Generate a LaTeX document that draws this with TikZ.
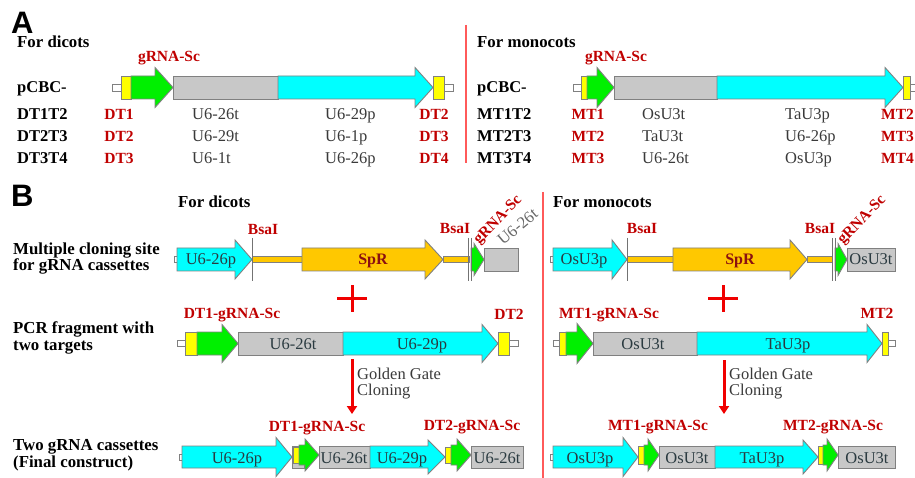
\documentclass[tikz,border=0pt]{standalone}
\usepackage{fontspec}
\setmainfont{Liberation Serif}
\newfontfamily\panelfont{Liberation Sans}
\usetikzlibrary{arrows.meta}
\definecolor{cy}{HTML}{00FFFF}
\definecolor{gr}{HTML}{00F000}
\definecolor{gy}{HTML}{C8C8C8}
\definecolor{ye}{HTML}{FFFF00}
\definecolor{og}{HTML}{FFC800}
\definecolor{ol}{HTML}{808080}
\definecolor{rd}{HTML}{C00000}
\definecolor{srd}{HTML}{8B1010}
\definecolor{tx}{HTML}{3A3A3A}
\definecolor{inn}{HTML}{2A3A40}
\definecolor{dv}{HTML}{FF5A5A}
\definecolor{ar}{HTML}{F00000}
\newcommand{\GBox}[5]{\path[geneseg,fill=#5] (#1,{#3-#4}) rectangle (#2,{#3+#4});}
\newcommand{\GArr}[7]{\path[geneseg,fill=#7] (#1,{#4-#5}) -- (#2,{#4-#5}) -- (#2,{#4-#6}) -- (#3,#4) -- (#2,{#4+#6}) -- (#2,{#4+#5}) -- (#1,{#4+#5}) -- cycle;}
\begin{document}
\begin{tikzpicture}[x=1pt,y=-1pt,
  geneseg/.style={draw=ol,line width=0.9pt,line join=miter},
  panellab/.style={font=\panelfont\bfseries\fontsize{31}{31}\selectfont,anchor=base west,inner sep=0pt},
  head/.style={font=\bfseries\fontsize{16.8}{18}\selectfont,anchor=base west,inner sep=0pt},
  twoline/.style={font=\bfseries\fontsize{16.8}{16.5}\selectfont,anchor=base west,inner sep=0pt,align=left},
  rowl/.style={font=\bfseries\fontsize{16.5}{18}\selectfont,anchor=base west,inner sep=0pt},
  rowt/.style={text=tx,font=\fontsize{16.5}{18}\selectfont,anchor=base west,inner sep=0pt},
  rott/.style={text=ol!80!black,font=\fontsize{16.5}{18}\selectfont,anchor=base west,inner sep=0pt},
  redl/.style={text=rd,font=\bfseries\fontsize{15.5}{17}\selectfont,anchor=base,inner sep=0pt},
  redw/.style={redl,anchor=base west},
  inlab/.style={text=inn,font=\fontsize{16.5}{18}\selectfont,anchor=base,inner sep=0pt},
  spr/.style={text=srd,font=\bfseries\fontsize{16}{18}\selectfont,anchor=base,inner sep=0pt},
  gglab/.style={text=tx,font=\fontsize{16.5}{16}\selectfont,anchor=base west,inner sep=0pt,align=left},
  divider/.style={draw=dv,line width=1.3pt},
  cutline/.style={draw=ol!90!black,line width=0.9pt},
  plussign/.style={draw=ar,line width=3pt},
  ggarrow/.style={draw=ar,line width=3pt,-{Triangle[length=8pt,width=10pt]}}
]
\useasboundingbox (0,0) rectangle (915,478);
\clip (0,0) rectangle (915,478);
\fill[white] (0,0) rectangle (915,478);

% ================= Panel A =================
\node[panellab] (pA) at (11,34) {A};
\draw[divider] (466,25) -- (466,163);

% dicots
\node[head] (hAd) at (17,48) {For dicots};
\node[redl] (gAd) at (169,62) {gRNA-Sc};
\node[rowl] (pcbcd) at (17,93) {pCBC-};
\GBox{112}{121}{87.5}{3.5}{white}
\GBox{121}{131}{87.5}{11.5}{ye}
\GArr{131}{155}{173}{87.5}{11.5}{20}{gr}
\GBox{173}{278}{87.5}{11.5}{gy}
\GArr{278}{415}{433}{87.5}{11.5}{20}{cy}
\GBox{444}{453}{87.5}{3.5}{white}
\GBox{433}{444}{87.5}{11.5}{ye}

\foreach \a/\b/\c/\d/\e [count=\i] in {DT1T2/DT1/U6-26t/U6-29p/DT2, DT2T3/DT2/U6-29t/U6-1p/DT3, DT3T4/DT3/U6-1t/U6-26p/DT4}{
  \pgfmathsetmacro\yy{98+22*\i}
  \node[rowl] (dr\i) at (17,\yy) {\a};
  \node[redl] (dra\i) at (119,\yy) {\b};
  \node[rowt] (drb\i) at (192,\yy) {\c};
  \node[rowt] (drc\i) at (325,\yy) {\d};
  \node[redl] (drd\i) at (434,\yy) {\e};
}

% monocots
\node[head] (hAm) at (477,48) {For monocots};
\node[redl] (gAm) at (616,62) {gRNA-Sc};
\node[rowl] (pcbcm) at (477,93) {pCBC-};
\GBox{573}{581}{87.5}{3.5}{white}
\GBox{581}{587}{87.5}{11.5}{ye}
\GArr{587}{597}{614}{87.5}{11.5}{20}{gr}
\GBox{614}{717}{87.5}{11.5}{gy}
\GArr{717}{885}{903}{87.5}{11.5}{20}{cy}
\GBox{910}{920}{87.5}{3.5}{white}
\GBox{903}{910}{87.5}{11.5}{ye}

\foreach \a/\b/\c/\d/\e [count=\i] in {MT1T2/MT1/OsU3t/TaU3p/MT2, MT2T3/MT2/TaU3t/U6-26p/MT3, MT3T4/MT3/U6-26t/OsU3p/MT4}{
  \pgfmathsetmacro\yy{98+22*\i}
  \node[rowl] (mr\i) at (477,\yy) {\a};
  \node[redl] (mra\i) at (588,\yy) {\b};
  \node[rowt] (mrb\i) at (642,\yy) {\c};
  \node[rowt] (mrc\i) at (785,\yy) {\d};
  \node[redw] (mrd\i) at (881,\yy) {\e};
}

% ================= Panel B =================
\node[panellab] (pB) at (11,207) {B};
\draw[divider] (543,192) -- (543,480);
\node[head] (hBd) at (178,208) {For dicots};
\node[head] (hBm) at (553,208) {For monocots};

\node[twoline] (l1) at (13,271) {Multiple cloning site\\for gRNA cassettes};
\node[twoline] (l2) at (13,350) {PCR fragment with\\two targets};
\node[twoline] (l3) at (13,467) {Two gRNA cassettes\\(Final construct)};

% --- MCS dicots
\GBox{174}{177}{259.5}{3}{white}
\GArr{177}{235}{252}{259.5}{11.5}{19.5}{cy}
\GBox{252}{302}{259.5}{3}{og}
\GArr{302}{425}{443}{259.5}{11.5}{19.5}{og}
\GBox{443}{469}{259.5}{3}{og}
\GArr{471}{474}{484}{259.5}{11.5}{16}{gr}
\GBox{484}{518}{259.5}{11.5}{gy}
\draw[cutline] (252,238) -- (252,281);
\draw[cutline] (468,238) -- (468,281);
\draw[cutline] (471,238) -- (471,281);
\node[inlab] (t1) at (211,265) {U6-26p};
\node[spr] (t2) at (373,265) {SpR};
\node[redl] (bs1) at (263,235) {BsaI};
\node[redl] (bs2) at (455,234) {BsaI};
\node[redw,rotate=46] (gr1) at (479,245) {gRNA-Sc};
\node[rott,rotate=40] (u61) at (503,246) {U6-26t};

% --- MCS monocots
\GBox{550}{553}{259.5}{3}{white}
\GArr{553}{612}{627}{259.5}{11.5}{19.5}{cy}
\GBox{627}{673}{259.5}{3}{og}
\GArr{673}{790}{807}{259.5}{11.5}{19.5}{og}
\GBox{807}{832}{259.5}{3}{og}
\GArr{835}{838}{847}{259.5}{11.5}{16}{gr}
\GBox{847}{895}{259.5}{11.5}{gy}
\draw[cutline] (627,238) -- (627,281);
\draw[cutline] (832,238) -- (832,281);
\draw[cutline] (835,238) -- (835,281);
\node[inlab] (t3) at (584,265) {OsU3p};
\node[spr] (t4) at (740,265) {SpR};
\node[inlab] (t5) at (871,265) {OsU3t};
\node[redl] (bs3) at (642,234) {BsaI};
\node[redl] (bs4) at (820,234) {BsaI};
\node[redw,rotate=46] (gr2) at (843,245) {gRNA-Sc};

% plus signs
\draw[plussign] (337,298) -- (367,298) (352,285) -- (352,312);
\draw[plussign] (708,298) -- (738,298) (723,285) -- (723,312);

% --- PCR dicots
\GBox{177}{185}{343.5}{3}{white}
\GBox{185}{197}{343.5}{11.5}{ye}
\GArr{197}{222}{238}{343.5}{11.5}{19}{gr}
\GBox{238}{343}{343.5}{11.5}{gy}
\GArr{343}{482}{498}{343.5}{11.5}{19}{cy}
\GBox{509}{518}{343.5}{3}{white}
\GBox{498}{509}{343.5}{11.5}{ye}
\node[inlab] (t6) at (293,349) {U6-26t};
\node[inlab] (t7) at (422,349) {U6-29p};
\node[redl] (p1) at (232,318) {DT1-gRNA-Sc};
\node[redl] (p2) at (509,319) {DT2};

% --- PCR monocots
\GBox{553}{559}{343.5}{3}{white}
\GBox{559}{566}{343.5}{11.5}{ye}
\GArr{566}{577}{593}{343.5}{11.5}{20}{gr}
\GBox{593}{697}{343.5}{11.5}{gy}
\GArr{697}{867}{882}{343.5}{11.5}{19}{cy}
\GBox{888}{895}{343.5}{3}{white}
\GBox{882}{888}{343.5}{11.5}{ye}
\node[inlab] (t8) at (643,349) {OsU3t};
\node[inlab] (t9) at (788,349) {TaU3p};
\node[redl] (p3) at (609,318) {MT1-gRNA-Sc};
\node[redl] (p4) at (877,318) {MT2};

% Golden Gate arrows
\coordinate (ga1) at (352,359);
\coordinate (ga2) at (352,414);
\coordinate (gb1) at (724,360);
\coordinate (gb2) at (724,414);
\draw[ggarrow] (ga1) -- (ga2);
\draw[ggarrow] (gb1) -- (gb2);
\node[gglab] (gg1) at (357,395) {Golden Gate\\Cloning};
\node[gglab] (gg2) at (729,395) {Golden Gate\\Cloning};

% --- Final dicots
\GBox{179}{182}{457}{3}{white}
\GArr{182}{276}{292}{457}{11}{19.5}{cy}
\GBox{292}{304}{457}{11}{gy}
\GBox{293}{299}{455}{8}{ye}
\GArr{299}{305}{319}{455}{10}{16}{gr}
\GBox{319}{370}{457}{11}{gy}
\GArr{370}{428}{445}{457}{11}{17}{cy}
\GBox{445}{451}{455}{8}{ye}
\GArr{451}{457}{471}{455}{10}{16}{gr}
\GBox{471}{523}{457}{11}{gy}
\node[inlab] (t10) at (237,463) {U6-26p};
\node[inlab] (t11) at (344,463) {U6-26t};
\node[inlab] (t12) at (402,463) {U6-29p};
\node[inlab] (t13) at (497,463) {U6-26t};
\node[redl] (f1) at (317,431) {DT1-gRNA-Sc};
\node[redl] (f2) at (472,430) {DT2-gRNA-Sc};

% --- Final monocots
\GBox{550}{553}{457}{3}{white}
\GArr{553}{623}{638}{457}{11}{19.5}{cy}
\GBox{638}{644}{455}{9}{ye}
\GArr{644}{648}{659}{455}{10}{16}{gr}
\GBox{659}{715}{457}{11}{gy}
\GArr{715}{803}{818}{457}{11}{17}{cy}
\GBox{818}{823}{455}{9}{ye}
\GArr{823}{827}{838}{455}{10}{16}{gr}
\GBox{838}{895}{457}{11}{gy}
\node[inlab] (t14) at (590,463) {OsU3p};
\node[inlab] (t15) at (687,463) {OsU3t};
\node[inlab] (t16) at (762,463) {TaU3p};
\node[inlab] (t17) at (867,463) {OsU3t};
\node[redl] (f3) at (658,430) {MT1-gRNA-Sc};
\node[redl] (f4) at (833,430) {MT2-gRNA-Sc};
\end{tikzpicture}
\end{document}
